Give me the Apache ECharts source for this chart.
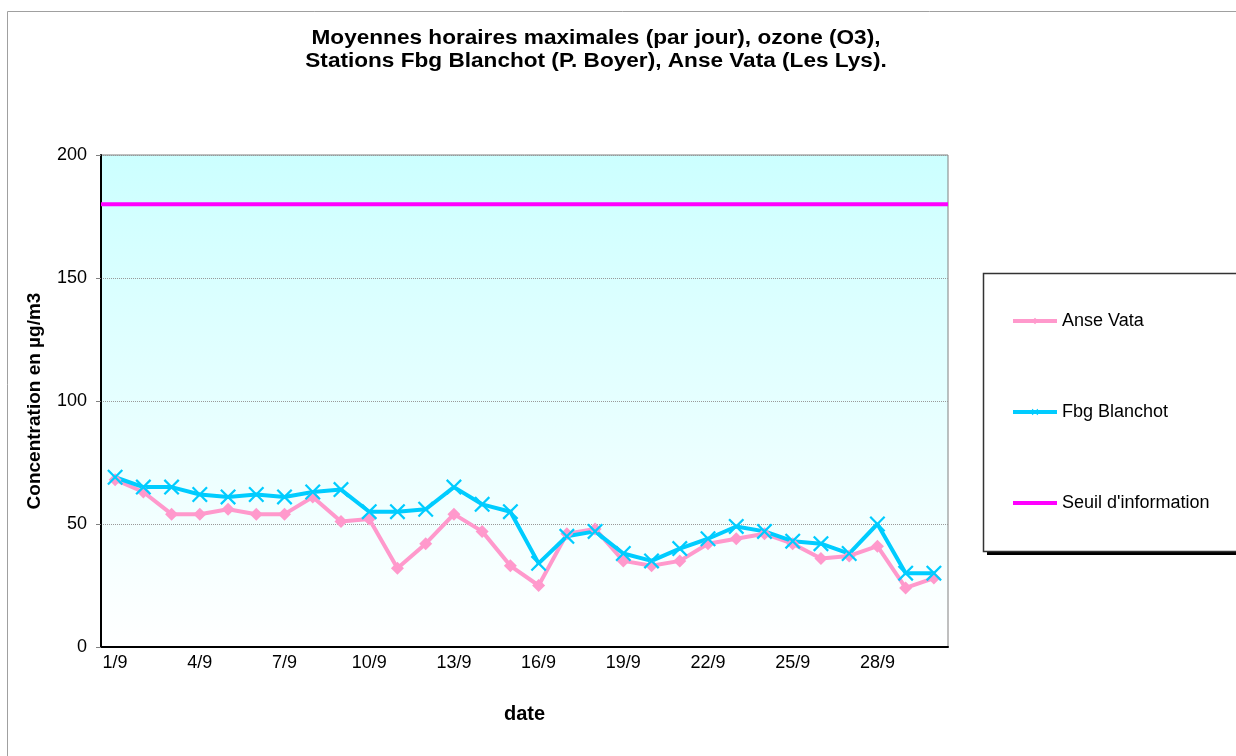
<!DOCTYPE html>
<html>
<head>
<meta charset="utf-8">
<script src="https://cdn.jsdelivr.net/npm/echarts@6/dist/echarts.min.js"></script>
<style>
  html, body { margin: 0; padding: 0; background: #fff; }
  #chart { width: 1236px; height: 756px; }
</style>
</head>
<body>
<div id="chart"></div>
<script>
var days = ['1/9', '2/9', '3/9', '4/9', '5/9', '6/9', '7/9', '8/9', '9/9', '10/9',
  '11/9', '12/9', '13/9', '14/9', '15/9', '16/9', '17/9', '18/9', '19/9', '20/9',
  '21/9', '22/9', '23/9', '24/9', '25/9', '26/9', '27/9', '28/9', '29/9', '30/9'];

var anseVata = [68, 63, 54, 54, 56, 54, 54, 61, 51, 52,
  32, 42, 54, 47, 33, 25, 46, 48, 35, 33,
  35, 42, 44, 46, 42, 36, 37, 41, 24, 28];

var fbgBlanchot = [69, 65, 65, 62, 61, 62, 61, 63, 64, 55,
  55, 56, 65, 58, 55, 34, 45, 47, 38, 35,
  40, 44, 49, 47, 43, 42, 38, 50, 30, 30];

var seuilValue = 180;
var seuil = days.map(function () { return seuilValue; });

var yTicks = { min: 0, max: 200, interval: 50 };

var titleLines = [
  'Moyennes horaires maximales (par jour), ozone (O3),',
  'Stations Fbg Blanchot (P. Boyer), Anse Vata (Les Lys).'
];

var FONT = 'Liberation Sans, Arial, sans-serif';
var crossPath = 'path://M0,1L1,0L5,4L9,0L10,1L6,5L10,9L9,10L5,6L1,10L0,9L4,5Z';

var chart = echarts.init(document.getElementById('chart'));

var option = {
  backgroundColor: '#ffffff',
  animation: false,
  textStyle: { fontFamily: FONT, color: '#000' },
  graphic: [
    // outer chart frame
    {
      type: 'rect',
      shape: { x: 7.5, y: 11.5, width: 1400, height: 900 },
      style: { fill: 'none', stroke: '#a0a0a0', lineWidth: 1 },
      z: -10
    },
    // legend box shadow + box
    {
      type: 'rect',
      shape: { x: 987, y: 278, width: 400, height: 277 },
      style: { fill: '#000' },
      z: -6
    },
    {
      type: 'rect',
      shape: { x: 983.5, y: 273.5, width: 400, height: 278 },
      style: { fill: '#fff', stroke: '#333', lineWidth: 1.5 },
      z: -5
    },
    {
      type: 'text',
      x: 596,
      y: 38,
      scaleX: 1.13,
      style: { text: titleLines[0], font: 'bold 20px ' + FONT, fill: '#000', align: 'center', verticalAlign: 'middle' }
    },
    {
      type: 'text',
      x: 596,
      y: 61,
      scaleX: 1.13,
      style: { text: titleLines[1], font: 'bold 20px ' + FONT, fill: '#000', align: 'center', verticalAlign: 'middle' }
    }
  ],
  legend: {
    orient: 'vertical',
    left: 1006,
    top: 307,
    itemGap: 73,
    itemWidth: 44,
    itemHeight: 8,
    lineStyle: { width: 4 },
    textStyle: { fontSize: 18, color: '#000', fontFamily: FONT },
    data: [
      'Anse Vata',
      'Fbg Blanchot',
      { name: "Seuil d'information", itemStyle: { opacity: 0 } }
    ]
  },
  grid: {
    left: 101,
    top: 155,
    right: 288,
    bottom: 109,
    show: true,
    borderColor: '#808080',
    borderWidth: 1,
    backgroundColor: new echarts.graphic.LinearGradient(0, 0, 0, 1, [
      { offset: 0, color: '#ccffff' },
      { offset: 1, color: '#ffffff' }
    ])
  },
  xAxis: [
    {
      type: 'category',
      data: days,
      boundaryGap: true,
      name: 'date',
      nameLocation: 'middle',
      nameGap: 57,
      nameTextStyle: { fontSize: 20, fontWeight: 'bold', color: '#000' },
      axisLine: { lineStyle: { color: '#000', width: 2 } },
      axisTick: { interval: 2, length: 5, lineStyle: { color: '#808080' } },
      axisLabel: { interval: 2, fontSize: 18, color: '#000', margin: 7 },
      splitLine: { show: false }
    },
    {
      type: 'category',
      data: days,
      boundaryGap: false,
      show: false
    }
  ],
  yAxis: {
    type: 'value',
    min: yTicks.min,
    max: yTicks.max,
    interval: yTicks.interval,
    name: 'Concentration en µg/m3',
    nameLocation: 'middle',
    nameGap: 57,
    nameTextStyle: { fontSize: 19, fontWeight: 'bold', color: '#000' },
    axisLine: { show: true, lineStyle: { color: '#000', width: 2 } },
    axisTick: { show: true, length: 5, lineStyle: { color: '#808080' } },
    axisLabel: { fontSize: 18, color: '#000', margin: 14 },
    splitLine: { show: true, lineStyle: { color: '#999', type: 'dotted', width: 1 } }
  },
  series: [
    {
      name: 'Anse Vata',
      type: 'line',
      data: anseVata,
      symbol: 'diamond',
      symbolSize: 13,
      lineStyle: { color: '#ff99cc', width: 4 },
      itemStyle: { color: '#ff99cc' }
    },
    {
      name: 'Fbg Blanchot',
      type: 'line',
      data: fbgBlanchot,
      symbol: crossPath,
      symbolSize: 16,
      lineStyle: { color: '#00ccff', width: 4 },
      itemStyle: { color: '#00ccff' }
    },
    {
      name: "Seuil d'information",
      type: 'line',
      xAxisIndex: 1,
      data: seuil,
      symbol: 'none',
      lineStyle: { color: '#ff00ff', width: 4 },
      itemStyle: { color: '#ff00ff' }
    }
  ]
};

chart.setOption(option);
</script>
</body>
</html>
